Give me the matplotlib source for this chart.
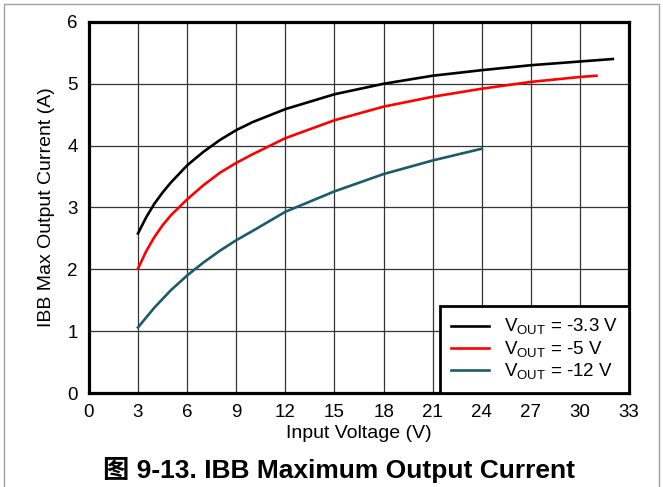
import matplotlib
matplotlib.use("Agg")
import matplotlib.pyplot as plt
from matplotlib.patches import Rectangle

plt.rcParams['font.family'] = ['Liberation Sans', 'Noto Sans CJK SC', 'DejaVu Sans']
plt.rcParams['mathtext.fontset'] = 'custom'
plt.rcParams['mathtext.rm'] = 'Liberation Sans'

# Данные кривых
vin_33 = [3, 3.5, 4, 4.5, 5, 6, 7, 8, 9, 10, 12, 15, 18, 21, 24, 27, 30, 32]
iout_33 = [2.58, 2.84, 3.06, 3.24, 3.40, 3.68, 3.90, 4.09, 4.25, 4.38, 4.59, 4.83, 5.00, 5.13, 5.22, 5.30, 5.36, 5.40]

vin_5 = [3, 3.5, 4, 4.5, 5, 6, 7, 8, 9, 10, 12, 15, 18, 21, 24, 27, 30, 31]
iout_5 = [2.01, 2.29, 2.52, 2.71, 2.87, 3.13, 3.36, 3.56, 3.72, 3.86, 4.12, 4.41, 4.63, 4.79, 4.92, 5.03, 5.11, 5.13]

vin_12 = [3, 4, 5, 6, 7, 8, 9, 10, 12, 15, 18, 21, 24]
iout_12 = [1.06, 1.38, 1.66, 1.90, 2.11, 2.30, 2.47, 2.62, 2.93, 3.26, 3.54, 3.76, 3.95]

labels = [r'V$_{\mathregular{OUT}}$ = -3.3 V', r'V$_{\mathregular{OUT}}$ = -5 V', r'V$_{\mathregular{OUT}}$ = -12 V']
colors = ['black', '#ff0000', '#1b5c6b']
x_ticks = list(range(0, 34, 3))
y_ticks = list(range(0, 7))

fig = plt.figure(figsize=(6.63, 4.87), dpi=100)
ax = fig.add_axes([0.134, 0.193, 0.815, 0.762])

ax.plot(vin_33, iout_33, color=colors[0], lw=1.9, label=labels[0])
ax.plot(vin_5, iout_5, color=colors[1], lw=1.9, label=labels[1])
ax.plot(vin_12, iout_12, color=colors[2], lw=1.9, label=labels[2])

ax.set_xlim(0, 33)
ax.set_ylim(0, 6)
ax.set_xticks(x_ticks)
ax.set_yticks(y_ticks)
ax.tick_params(length=0, labelsize=13.5, pad=8)
ax.grid(True, color='#333333', lw=0.9)
for s in ax.spines.values():
    s.set_linewidth(2.3)

ax.set_xlabel('Input Voltage (V)', fontsize=14, labelpad=3)
ax.set_ylabel('IBB Max Output Current (A)', fontsize=14, labelpad=9)

leg = ax.legend(loc='lower right', fontsize=13.5, frameon=True, fancybox=False,
                borderaxespad=0, handlelength=2.0, labelspacing=0.1,
                borderpad=0.6, handletextpad=0.8)
leg.get_frame().set_edgecolor('black')
leg.get_frame().set_linewidth(2)
leg.get_frame().set_alpha(1)

fig.text(0.512, 0.034, '图 9-13. IBB Maximum Output Current', ha='center', va='center',
         fontsize=19, fontweight='bold')

# Рамка вокруг рисунка
fig.patches.append(Rectangle((4 / 663, -0.1), 655 / 663, 1.1 - 4 / 487, transform=fig.transFigure,
                             fill=False, edgecolor='#a0a0a0', lw=1))

plt.savefig('out.png', dpi=100)
